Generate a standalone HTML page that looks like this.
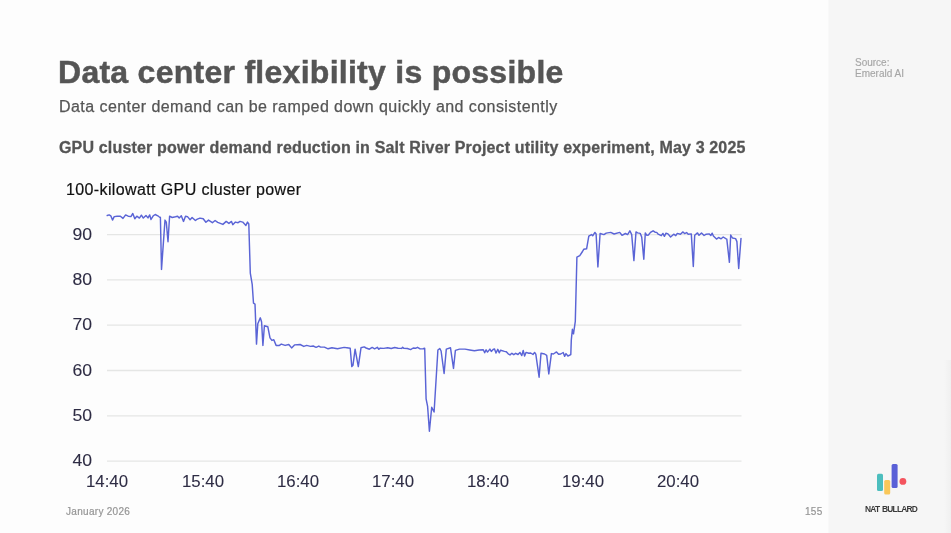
<!DOCTYPE html>
<html><head><meta charset="utf-8"><style>
html,body{margin:0;padding:0;}
body{width:951px;height:533px;position:relative;overflow:hidden;background:#fdfdfd;font-family:"Liberation Sans",sans-serif;}
.side{position:absolute;left:829px;top:0;width:122px;height:533px;background:#f6f6f6;}
.t{position:absolute;white-space:nowrap;}
.t,.yl,.xl{will-change:transform;}
#title{left:58px;top:53.5px;font-size:32px;font-weight:bold;color:#555555;letter-spacing:0.27px;-webkit-text-stroke:0.5px #555555;line-height:36px;}
#sub{left:59px;top:98px;font-size:16px;color:#555555;letter-spacing:0.44px;-webkit-text-stroke:0.25px #555555;line-height:18px;}
#ctitle{left:59px;top:139px;font-size:16px;font-weight:bold;color:#555555;letter-spacing:0.165px;-webkit-text-stroke:0.3px #555555;line-height:18px;}
#ylabel{left:66px;top:180px;font-size:16px;color:#111111;letter-spacing:0.38px;-webkit-text-stroke:0.2px #111111;line-height:19px;}
.yl{position:absolute;left:62px;width:30px;text-align:right;font-size:16px;color:#2e2c44;-webkit-text-stroke:0.08px #2e2c44;line-height:19px;transform:scaleX(1.1);transform-origin:100% 50%;}
.xl{position:absolute;top:472px;width:60px;text-align:center;font-size:16px;color:#2e2c44;-webkit-text-stroke:0.08px #2e2c44;line-height:19px;transform:scaleX(1.05);}
#src{left:855px;top:58px;font-size:10px;color:#a6a6a6;line-height:10.5px;-webkit-text-stroke:0.15px #a6a6a6;}
#date{left:66px;top:505.5px;font-size:10px;color:#959595;letter-spacing:0.3px;line-height:12px;-webkit-text-stroke:0.2px #959595;}
#page{left:805px;top:506px;font-size:10px;color:#959595;letter-spacing:0.3px;line-height:12px;-webkit-text-stroke:0.2px #959595;}
#brand{left:864.5px;top:504.5px;font-size:8.4px;font-weight:bold;color:#3a3a3a;letter-spacing:-0.75px;word-spacing:1px;line-height:9px;}
svg{position:absolute;left:0;top:0;}
</style></head><body>
<div class="side"></div><div style="position:absolute;left:828px;top:0;width:1px;height:533px;background:#f9f9f9"></div><div style="position:absolute;left:944px;top:360px;width:7px;height:173px;background:linear-gradient(to right,#f6f6f6,#f0f0f0)"></div>
<div class="t" id="title">Data center flexibility is possible</div>
<div class="t" id="sub">Data center demand can be ramped down quickly and consistently</div>
<div class="t" id="ctitle">GPU cluster power demand reduction in Salt River Project utility experiment, May 3 2025</div>
<div class="t" id="ylabel">100-kilowatt GPU cluster power</div>
<div class="yl" style="top:224.6px">90</div><div class="yl" style="top:269.9px">80</div><div class="yl" style="top:315.2px">70</div><div class="yl" style="top:360.5px">60</div><div class="yl" style="top:405.8px">50</div><div class="yl" style="top:451.1px">40</div>
<div class="xl" style="left:77.4px">14:40</div><div class="xl" style="left:172.5px">15:40</div><div class="xl" style="left:267.6px">16:40</div><div class="xl" style="left:362.7px">17:40</div><div class="xl" style="left:457.8px">18:40</div><div class="xl" style="left:552.9px">19:40</div><div class="xl" style="left:648.0px">20:40</div>
<svg width="951" height="533" viewBox="0 0 951 533">
<g stroke="#e5e6e5" stroke-width="1.3"><line x1="107" y1="234.6" x2="741.5" y2="234.6"/><line x1="107" y1="279.9" x2="741.5" y2="279.9"/><line x1="107" y1="325.2" x2="741.5" y2="325.2"/><line x1="107" y1="370.5" x2="741.5" y2="370.5"/><line x1="107" y1="415.8" x2="741.5" y2="415.8"/><line x1="107" y1="461.1" x2="741.5" y2="461.1"/></g>
<polyline fill="none" stroke="#5a64d6" stroke-width="1.45" stroke-linejoin="round" stroke-linecap="round" points="107.2,215.5 109.2,214.9 110.8,215.8 112.5,220.1 114.2,216.6 117.1,216.2 120.4,216.2 123,218.4 125.6,214.9 128.2,216.2 130.9,216.6 132.8,213.5 134.8,218.8 136.8,216.2 139.4,218.1 141.4,215.2 143.3,218.1 146,215.5 148,217.9 149.7,214.9 151,219.5 153.2,215.8 155.2,214.5 157.8,215.8 159.1,216.8 160.4,217.5 161.5,269.4 165,220.1 166.3,222.1 168,241.8 169.6,216.2 172.2,217.5 175.5,216.8 177.6,216.2 179.2,217.9 181.3,215.8 183.5,221.4 185.5,216.2 187.5,216.6 190.1,219.7 192.1,217.5 195.4,220.5 197.3,219.2 200,218.1 203.2,218.8 205.9,222.3 208.5,220.1 212.4,222.7 215.1,220.5 217.7,222.3 222.9,224.4 226.2,221.4 228.9,223.4 231.5,221.4 232.8,224.7 235.4,222.1 238.1,222.7 240,221.4 242.7,222.1 245.9,225.4 247.5,222.1 248.8,224 250.3,273.1 252.2,284.4 253.5,303.2 255,304.1 256.5,344.1 257.8,323.8 260.3,317.8 261.6,322 262.9,345.4 264.4,325.7 267.8,326.7 270,337.9 271.9,340.4 273.8,339.8 276.1,345.4 279.4,345.4 281.3,344.1 285.1,345.4 288.8,344.5 291.6,347.9 294.5,344.9 300.1,344.5 303.8,346.4 306.7,345.4 310.4,346.4 313.2,346 316.1,347.3 318.8,346.1 320.6,347.1 324.4,347.1 328.1,348.8 331.9,347.8 337.5,348.8 344.1,347.4 346.9,347.8 350.2,348.3 351.8,366.6 353,365.2 355.1,349.2 358.3,366.6 361,347.8 364.2,346.9 366.1,348 369.4,349.2 372.2,347.4 374.6,348.8 377.3,347.3 378.8,349.3 380.2,348.1 383.7,348.4 387.7,347.8 391.2,348.5 394.7,347.5 398.1,348.3 401.6,348.4 402.6,347.3 403.9,348.4 407.4,348.5 410.6,349.6 413.2,348 415.5,348.3 417.5,347.3 420.1,348.9 423,348.7 424.7,348.3 426.1,398.8 427.6,406.4 429.4,431.2 431.7,407.3 434.1,412 437.9,350 439.8,348.5 441.1,351 444.1,373.5 446.3,349.1 450.5,347.8 453.5,368.4 455.4,350.4 459.5,349.1 465,349.1 469.7,350 474.4,350.8 479.1,350 483.3,349.8 484.7,352.8 486.1,349.8 487.5,352.1 489.9,349.1 491.3,351.4 493.1,349.5 494.5,348.9 496,353 497.8,349.3 499.2,352.8 500.6,350.2 504.4,351.4 506.3,351.7 508.2,353.8 510,354.9 511.9,353.3 513.8,354.7 515.7,353.3 518,354.5 519.9,352.4 521.8,355.6 523.2,350.5 524.6,356.1 526,352.4 528.8,353.3 530.7,353 533,354.5 534.6,352.4 535.8,354.2 539.1,377.2 541,353.3 544.6,354 546.7,355.3 548.8,373.9 551.4,353.6 553.4,354 556.5,351.9 558.6,354.3 560.7,354 563.2,352.5 564.6,356.3 566,353.6 567.9,356 570.8,354.6 571.3,340 572.4,329.3 573.5,333.8 575.3,321.4 576.9,257.2 579.8,255.6 582.5,251.5 583.7,249.3 586.6,248.8 588.8,236.2 591.5,234.6 592.7,235.8 594.9,232.4 596.1,234 597.9,266.9 600.1,233.5 603.9,234.6 606.2,233.1 610.7,232.4 614.1,234 619.7,232.4 622,235.3 625.4,233.5 627.6,234.6 629.9,230.8 631.7,234.6 633.9,260.6 636,231.9 637.6,232.9 640.2,233.4 641.7,237 643.8,259.2 645.3,232.9 646.9,235.3 648.4,235 650.5,232.4 653.1,230.8 655.1,232.2 656.7,232.4 658.2,234.2 661.3,235.7 662.9,233.4 664.4,236.3 666,233.2 668,233.9 670.6,237 673.7,234.2 675.8,235.7 677.3,233.4 680.4,234.2 683,231.9 684.6,233.6 686.6,232.6 688.2,234.2 691.3,233.9 693.3,266.5 694.7,235.3 697.5,232.9 699,235.3 701.5,232.9 704.1,235.5 706.2,234.2 709.3,233.9 710.8,235.5 712.2,233.2 713.4,236 716.5,239.1 718.6,237.5 721.1,238.8 723.2,237 725.8,238.6 726.8,239.1 729.4,262.3 730.7,235 732.5,238 735.6,238.6 736.9,241.6 738.7,268.5 741,238.4"/>
<rect x="877" y="473.7" width="6" height="17.4" rx="1.5" fill="#4cbebe"/>
<rect x="884.2" y="480" width="6" height="14.6" rx="1.5" fill="#f9c75a"/>
<rect x="891.6" y="463.9" width="6" height="24.1" rx="1.5" fill="#5960d7"/>
<circle cx="902.9" cy="481.4" r="3.4" fill="#f4545e"/>
</svg>
<div class="t" id="src">Source:<br>Emerald AI</div>
<div class="t" id="date">January 2026</div>
<div class="t" id="page">155</div>
<div class="t" id="brand">NAT BULLARD</div>
</body></html>
